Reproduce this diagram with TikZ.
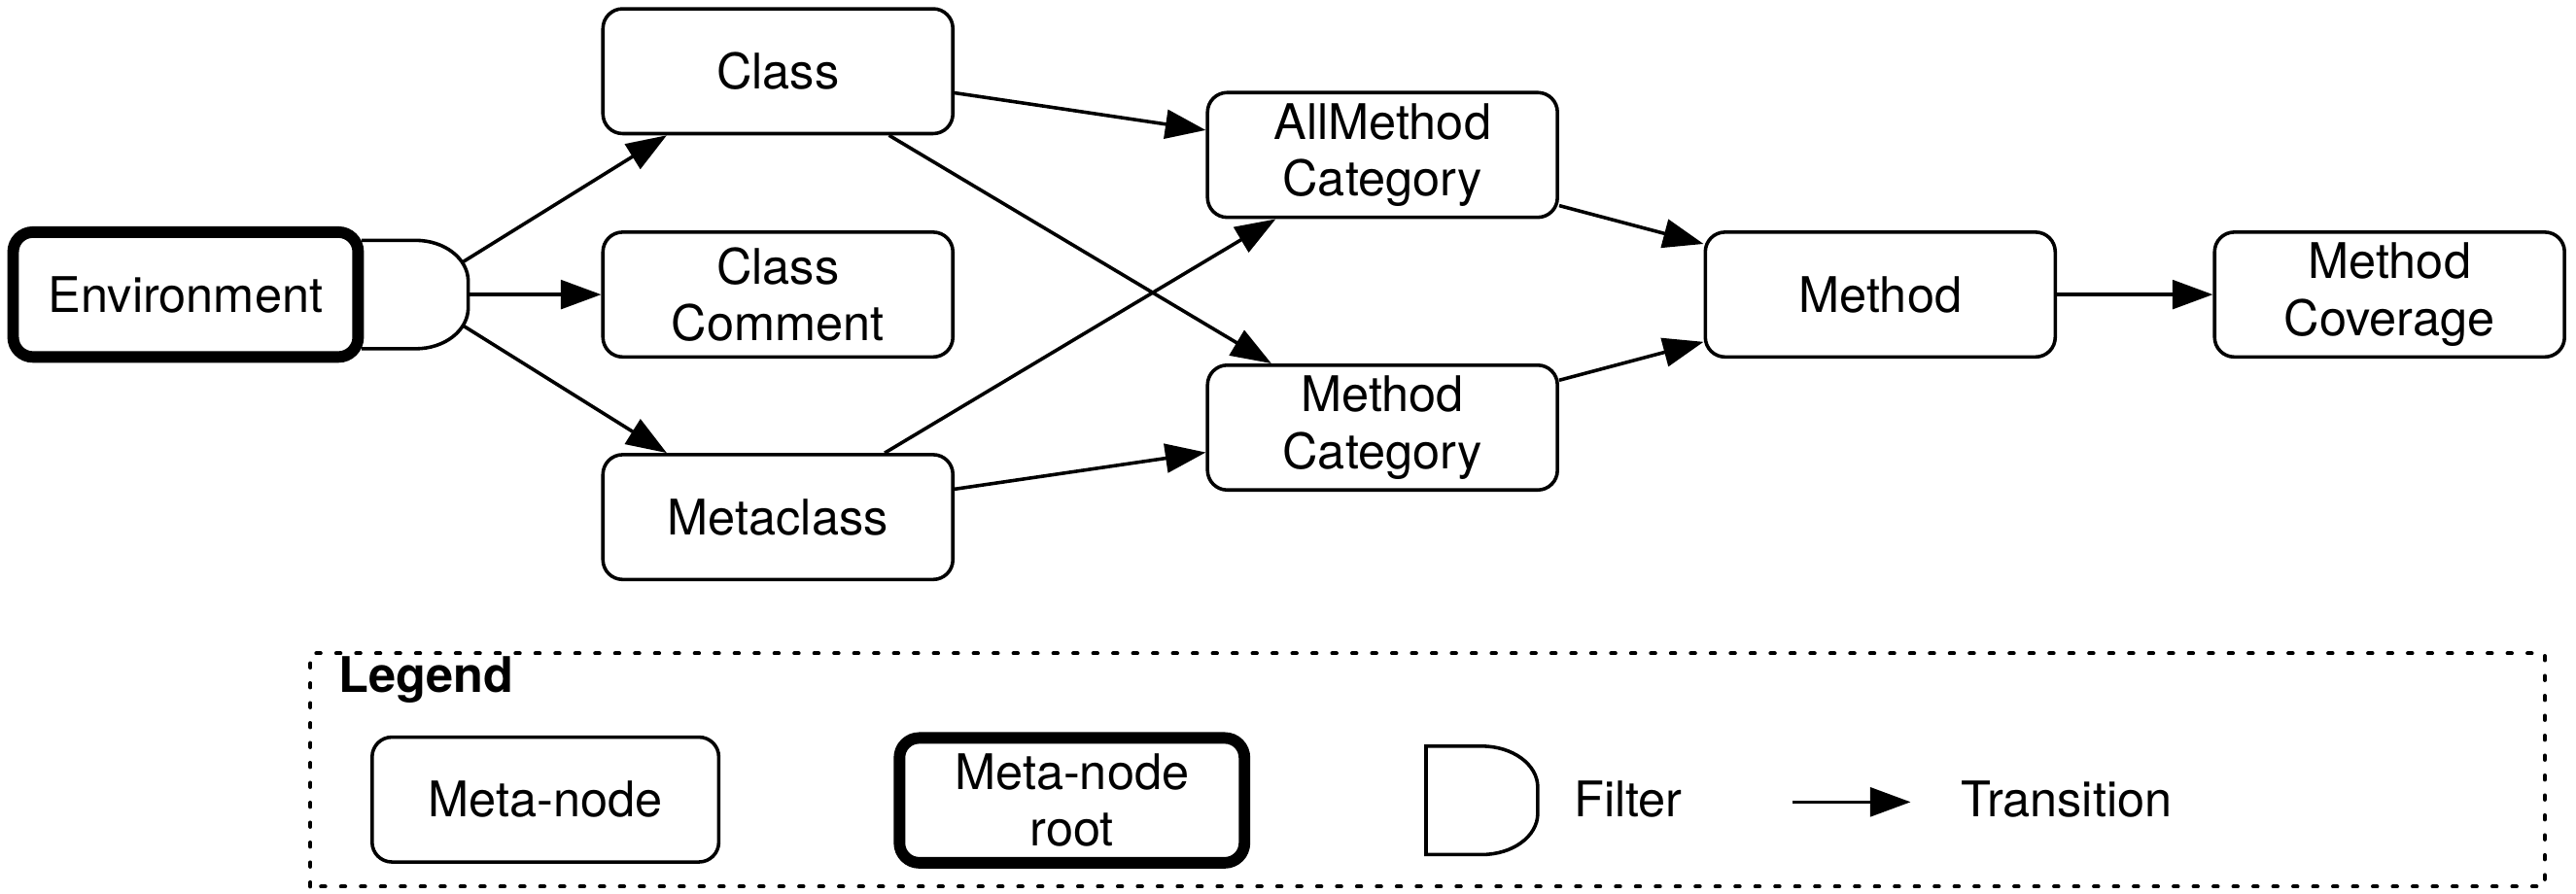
\documentclass[tikz,border=0pt]{standalone}
\usepackage{fontspec}
\setmainfont{TeX Gyre Heros}
\usetikzlibrary{arrows.meta}
\begin{document}
\begin{tikzpicture}[font=\fontsize{17}{19.6}\selectfont,
	box/.style={draw,line width=1.2pt,rounded corners=0.24cm,fill=white,minimum width=4.26cm,minimum height=1.52cm,inner sep=0pt,align=center},
	rootbox/.style={box,line width=4pt,minimum width=4.2cm},
	trans/.style={line width=1.2pt,-{Triangle[length=14pt,width=10pt]}}]
	\useasboundingbox (0,0) rectangle (31.36,10.887);
	\draw[line width=1.2pt] (4.40,7.96)--(5.06,7.96) arc[start angle=90,end angle=0,x radius=0.64,y radius=0.5]--(5.70,7.14) arc[start angle=0,end angle=-90,x radius=0.64,y radius=0.5]--(4.40,6.64);
	\node[rootbox] (env) at (2.26,7.30) {Environment};
	\node[box] (class) at (9.47,10.02) {Class};
	\node[box] (comment) at (9.47,7.30) {Class\\Comment};
	\node[box] (meta) at (9.47,4.59) {Metaclass};
	\node[box] (allcat) at (16.83,9.00) {AllMethod\\Category};
	\node[box] (cat) at (16.83,5.68) {Method\\Category};
	\node[box] (method) at (22.89,7.30) {Method};
	\node[box] (cover) at (29.09,7.30) {Method\\Coverage};
	\coordinate (f1) at (5.64,7.70);
	\coordinate (f2) at (5.70,7.30);
	\coordinate (f3) at (5.64,6.92);
	\draw[trans] (f1)--(class.210);
	\draw[trans] (f2)--(comment);
	\draw[trans] (f3)--(meta.150);
	\draw[trans] (class.-7)--(allcat.172);
	\draw[trans] (class.-30)--(cat.150);
	\draw[trans] (meta.31)--(allcat.211);
	\draw[trans] (meta.9)--(cat.188);
	\draw[trans] (allcat.-16)--(method.164);
	\draw[trans] (cat.15)--(method.195);
	\draw[trans] (method)--(cover);
	\draw[line width=1.35pt,line cap=round,dash pattern=on 1.5pt off 5.4pt] (3.78,0.09) rectangle (30.98,2.93);
	\node[anchor=west,font=\fontsize{17}{19.6}\selectfont\bfseries] (legend) at (4.00,2.61) {Legend};
	\node[box,minimum width=4.22cm] (lnode) at (6.64,1.15) {Meta-node};
	\node[rootbox] (lroot) at (13.05,1.14) {Meta-node\\root};
	\draw[line width=1.2pt] (17.36,1.80)--(18.04,1.80) arc[start angle=90,end angle=0,x radius=0.68,y radius=0.5]--(18.72,0.98) arc[start angle=0,end angle=-90,x radius=0.68,y radius=0.5]--(17.36,0.48)--cycle;
	\node (lfilter) at (19.82,1.15) {Filter};
	\coordinate (ta) at (21.82,1.12);
	\coordinate (tb) at (23.26,1.12);
	\draw[trans] (ta)--(tb);
	\node (ltrans) at (25.16,1.15) {Transition};
\end{tikzpicture}
\end{document}
